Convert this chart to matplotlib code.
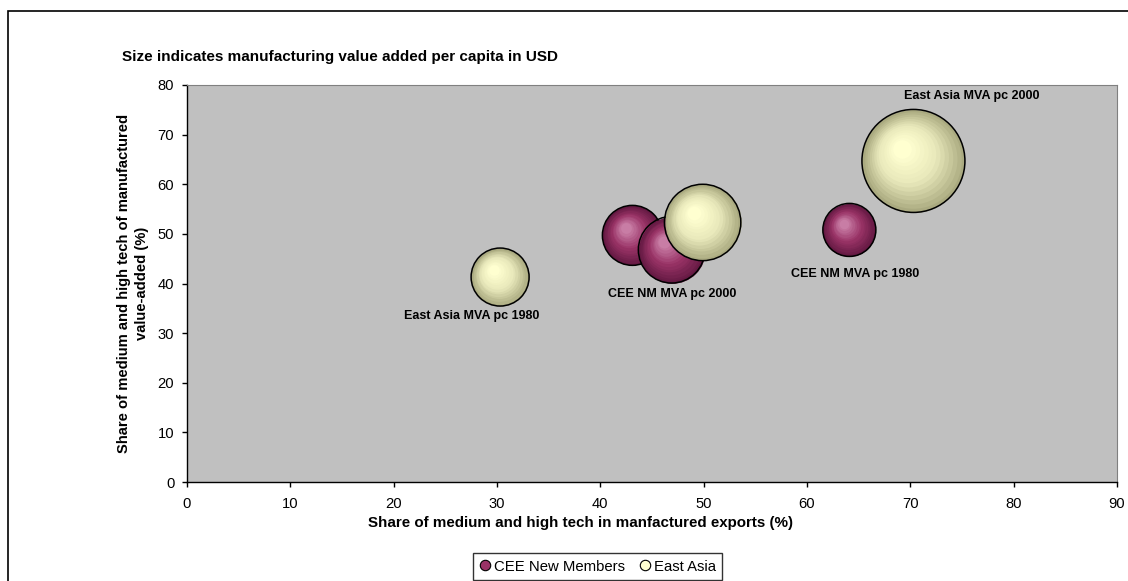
import numpy as np
import matplotlib
matplotlib.use("Agg")
import matplotlib.pyplot as plt
from matplotlib import transforms
from matplotlib.lines import Line2D
from matplotlib.patches import Rectangle

plt.rcParams['font.family'] = ['Liberation Sans', 'DejaVu Sans']

# ---- data -------------------------------------------------------------
series_names = ["CEE New Members", "East Asia"]

cee_x = [64.1, 43.1, 46.9]          # share of MHT in manufactured exports (%)
cee_y = [50.8, 49.7, 46.8]          # share of MHT in manufacturing value added (%)
cee_mva = [265, 339, 418]           # MVA per capita (USD)
cee_labels = ["CEE NM MVA pc 1980", "", "CEE NM MVA pc 2000"]

ea_x = [30.3, 49.9, 70.3]
ea_y = [41.3, 52.3, 64.7]
ea_mva = [317, 550, 1000]
ea_labels = ["East Asia MVA pc 1980", "", "East Asia MVA pc 2000"]

x_ticks = [0, 10, 20, 30, 40, 50, 60, 70, 80, 90]
y_ticks = [0, 10, 20, 30, 40, 50, 60, 70, 80]

# ---- layout / style -----------------------------------------------------
DPI = 100
PX2PT = 72.0 / DPI
W, H = 1128, 581
R_MAX_PX = 51.5            # radius of the largest bubble in pixels

# label offsets from bubble centre, in pixels (x right, y up)
label_offsets = {
    "CEE NM MVA pc 1980": (6, -44),
    "CEE NM MVA pc 2000": (1, -44.5),
    "East Asia MVA pc 1980": (-28, -38.5),
    "East Asia MVA pc 2000": (58, 65),
}

purple_edge = np.array([100, 25, 66]) / 255
purple_mid = np.array([153, 51, 102]) / 255
purple_center = np.array([200, 125, 165]) / 255
yellow_edge = np.array([170, 170, 128]) / 255
yellow_mid = np.array([232, 232, 186]) / 255
yellow_center = np.array([255, 255, 208]) / 255

fig = plt.figure(figsize=(W / DPI, H / DPI), dpi=DPI)
fig.patch.set_facecolor("white")

ax_l, ax_r, ax_t, ax_b = 187, 1117, 85, 482
ax = fig.add_axes([ax_l / W, 1 - ax_b / H, (ax_r - ax_l) / W, (ax_b - ax_t) / H])
ax.set_facecolor("#c0c0c0")
ax.set_xlim(0, 90)
ax.set_ylim(0, 80)
ax.set_xticks(x_ticks)
ax.set_yticks(y_ticks)
ax.set_xticklabels([str(v) for v in x_ticks])
ax.set_yticklabels([str(v) for v in y_ticks])
ax.tick_params(direction="out", length=5 * PX2PT, width=1, color="black",
               labelsize=10.6, pad=7)
ax.tick_params(axis="y", pad=5.5)
for side in ("top", "right"):
    ax.spines[side].set_color("#808080")
for side in ("left", "bottom"):
    ax.spines[side].set_color("black")
    ax.spines[side].set_linewidth(1.0)

vmax = max(max(cee_mva), max(ea_mva))


def colour_at(t, edge, mid, center):
    if t < 0.5:
        return edge + (mid - edge) * (t / 0.5)
    return mid + (center - mid) * ((t - 0.5) / 0.5)


def draw_bubble(x, y, value, edge, mid, center, z):
    r = R_MAX_PX * np.sqrt(value / vmax)
    n = 14
    hx, hy = -0.22, 0.24
    for k in range(n):
        t = k / (n - 1)
        rad = r * (1 - 0.82 * t)
        tr = transforms.offset_copy(ax.transData, fig=fig,
                                    x=hx * r * t * PX2PT, y=hy * r * t * PX2PT,
                                    units="points")
        ax.scatter([x], [y], s=(2 * rad * PX2PT) ** 2,
                   color=[colour_at(t, edge, mid, center)],
                   linewidths=0, transform=tr, zorder=z, clip_on=False)
    ax.scatter([x], [y], s=(2 * r * PX2PT) ** 2, facecolors="none",
               edgecolors="black", linewidths=1.1, zorder=z)


z = 3
for xs, ys, vs, cols in ((cee_x, cee_y, cee_mva, (purple_edge, purple_mid, purple_center)),
                         (ea_x, ea_y, ea_mva, (yellow_edge, yellow_mid, yellow_center))):
    for x, y, v in zip(xs, ys, vs):
        draw_bubble(x, y, v, *cols, z)
        z += 1

for xs, ys, labels in ((cee_x, cee_y, cee_labels), (ea_x, ea_y, ea_labels)):
    for x, y, lab in zip(xs, ys, labels):
        if not lab:
            continue
        dx, dy = label_offsets[lab]
        ax.annotate(lab, (x, y), xytext=(dx * PX2PT, dy * PX2PT),
                    textcoords="offset points", ha="center", va="center",
                    fontsize=9.0, fontweight="bold", color="black", zorder=50)

# titles
fig.text(122 / W, 1 - 61 / H, "Size indicates manufacturing value added per capita in USD",
         fontsize=11.0, fontweight="bold", ha="left", va="baseline")
fig.text(580 / W, 1 - 527 / H, "Share of medium and high tech in manfactured exports (%)",
         fontsize=10.9, fontweight="bold", ha="center", va="baseline")
fig.text(133 / W, 1 - 283 / H,
         "Share of medium and high tech of manufactured\nvalue-added (%)",
         fontsize=10.6, fontweight="bold", rotation=90, ha="center", va="center",
         multialignment="center", linespacing=1.3)

# legend
handles = [
    Line2D([], [], marker="o", linestyle="none", markersize=7.5,
           markerfacecolor=purple_mid, markeredgecolor="black", markeredgewidth=0.8),
    Line2D([], [], marker="o", linestyle="none", markersize=7.5,
           markerfacecolor=yellow_center, markeredgecolor="black", markeredgewidth=0.8),
]
leg = fig.legend(handles, series_names, loc="upper left",
                 bbox_to_anchor=(473 / W, 1 - 553 / H), ncol=2, frameon=True,
                 fancybox=False, edgecolor="black", fontsize=10.7,
                 handlelength=0.7, handletextpad=0.25, columnspacing=1.0,
                 borderpad=0.45, borderaxespad=0)
leg.get_frame().set_linewidth(1.0)

# outer chart border
fig.patches.append(Rectangle((8 / W, -0.05), 1.1, 1 - 11 / H + 0.05,
                             transform=fig.transFigure, fill=False,
                             edgecolor="black", linewidth=1.2, zorder=0))

fig.savefig("out.png", dpi=DPI)
